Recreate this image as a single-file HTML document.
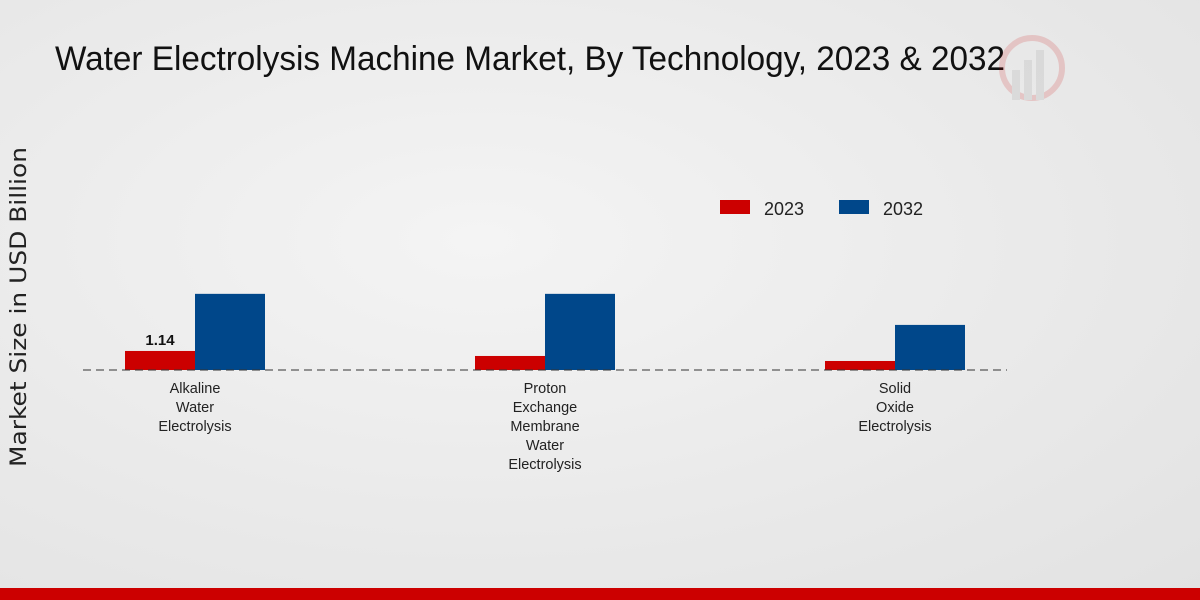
<!DOCTYPE html>
<html><head><meta charset="utf-8"><style>
html,body{margin:0;padding:0;width:1200px;height:600px;overflow:hidden;}
body{background:radial-gradient(ellipse at 40% 40%,#f4f4f4 0%,#e9e9e9 60%,#e2e2e2 100%);font-family:"Liberation Sans",sans-serif;}
</style></head><body>
<svg id="chart" width="1200" height="600" xmlns="http://www.w3.org/2000/svg">
<text x="55" y="70" font-size="34" textLength="950" lengthAdjust="spacingAndGlyphs" fill="#111">Water Electrolysis Machine Market, By Technology, 2023 &amp; 2032</text>
<g opacity="0.15">
<circle cx="1032" cy="68" r="30" fill="none" stroke="#c00" stroke-width="6"/>
<rect x="1012" y="70" width="8" height="30" fill="#888"/><rect x="1024" y="60" width="8" height="40" fill="#888"/><rect x="1036" y="50" width="8" height="50" fill="#888"/>
</g>
<text transform="translate(26,307) rotate(-90)" text-anchor="middle" font-size="22" font-family="DejaVu Sans, sans-serif" textLength="320" lengthAdjust="spacingAndGlyphs" fill="#222">Market Size in USD Billion</text>
<g>
<rect x="720" y="200" width="30" height="14" fill="#cc0000"/>
<text x="764" y="215" font-size="18" fill="#222">2023</text>
<rect x="839" y="200" width="30" height="14" fill="#00478a"/>
<text x="883" y="215" font-size="18" fill="#222">2032</text>
</g>
<g id="bars"></g>
<line x1="83" y1="370" x2="1007" y2="370" stroke="#333" stroke-dasharray="8,5" stroke-width="1"/>
<rect x="0" y="588" width="1200" height="12" fill="#cc0000"/>
</svg>
<script>
const categories = [["Alkaline","Water","Electrolysis"],["Proton","Exchange","Membrane","Water","Electrolysis"],["Solid","Oxide","Electrolysis"]];
const values2023 = [1.14, 0.84, 0.54];
const values2032 = [4.56, 4.56, 2.7];
const labels2023 = ["1.14", null, null];
const ns = "http://www.w3.org/2000/svg";
const g = document.getElementById("bars");
const base = 370, scale = 16.7;
const yScale = v => base - v * scale;
const xCenter = i => 195 + i * 350;
function mk(tag, attrs){const e=document.createElementNS(ns,tag);for(const k in attrs)e.setAttribute(k,attrs[k]);return e;}
categories.forEach((c,i)=>{
  const cx = xCenter(i);
  const r1 = mk("rect",{x:cx-70,y:yScale(values2023[i]),width:70,height:base-yScale(values2023[i]),fill:"#cc0000"});
  
  
  g.appendChild(r1);
  const r2 = mk("rect",{x:cx,y:yScale(values2032[i]),width:70,height:base-yScale(values2032[i]),fill:"#00478a"});
  
  
  g.appendChild(r2);
  if(labels2023[i]){
    const t = mk("text",{x:cx-35,y:yScale(values2023[i])-6,"text-anchor":"middle","font-size":"15","font-weight":"bold",fill:"#111"});
    t.textContent = labels2023[i];
    
    
    g.appendChild(t);
  }
  c.forEach((line,j)=>{
    const t = mk("text",{x:cx,y:393+j*19,"text-anchor":"middle","font-size":"14.5",fill:"#222"});
    t.textContent = line;
    
    
    g.appendChild(t);
  });
});
</script>
</body></html>
